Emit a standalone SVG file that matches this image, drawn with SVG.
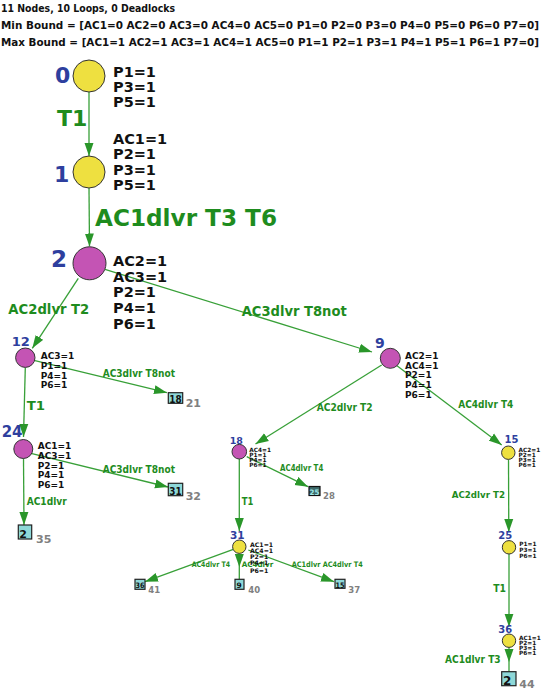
<svg xmlns="http://www.w3.org/2000/svg" width="544" height="691" viewBox="0 0 544 691">
<defs>
<style>
text{font-family:"DejaVu Sans","Liberation Sans",sans-serif;font-weight:bold}
.hd{font-size:10.5px;fill:#111}
.hd2{font-size:10.1px;fill:#111}
.id{fill:#2e3f9e}
.st{fill:#111}
.el{fill:#1e8c1e}
.gr{fill:#808080}
.lf{fill:#111}
.ed{stroke:#38a038;stroke-width:1.3;fill:none}
.y{fill:#eee040;stroke:#333;stroke-width:1}
.m{fill:#c454b4;stroke:#333;stroke-width:1}
.bx{fill:#8ed8d8;stroke:#222;stroke-width:1.2}
.bxd{fill:#3e6a6a;stroke:#111;stroke-width:1.2}
</style>
<marker id="ah" markerUnits="userSpaceOnUse" markerWidth="14" markerHeight="10" refX="13" refY="5" orient="auto"><path d="M0,0.5 L13,5 L0,9.5 z" fill="#2a962a"/></marker>
</defs>
<rect width="544" height="691" fill="#fff"/>
<g id="header">
<text class="hd" x="1" y="12" textLength="174" lengthAdjust="spacingAndGlyphs">11 Nodes, 10 Loops, 0 Deadlocks</text>
<text class="hd2" x="1" y="29" textLength="538" lengthAdjust="spacingAndGlyphs">Min Bound = [AC1=0 AC2=0 AC3=0 AC4=0 AC5=0 P1=0 P2=0 P3=0 P4=0 P5=0 P6=0 P7=0]</text>
<text class="hd2" x="1" y="46" textLength="538" lengthAdjust="spacingAndGlyphs">Max Bound = [AC1=1 AC2=1 AC3=1 AC4=1 AC5=0 P1=1 P2=1 P3=1 P4=1 P5=1 P6=1 P7=0]</text>
</g>
<g id="connectors">
<path class="ed" d="M89,92 L89,156" marker-end="url(#ah)"/>
<path class="ed" d="M89,188 L89.5,246.5" marker-end="url(#ah)"/>
<path class="ed" d="M78.3,278.3 L32.3,348.3" marker-end="url(#ah)"/>
<path class="ed" d="M105,269.3 L372,352" marker-end="url(#ah)"/>
<path class="ed" d="M35,360.7 L167,392.7" marker-end="url(#ah)"/>
<path class="ed" d="M25.3,367.5 L23.5,437" marker-end="url(#ah)"/>
<path class="ed" d="M31,453.3 L168,487" marker-end="url(#ah)"/>
<path class="ed" d="M23.5,458.5 L24,525" marker-end="url(#ah)"/>
<path class="ed" d="M381.7,365 L255.5,444" marker-end="url(#ah)"/>
<path class="ed" d="M396,365 L501.7,445" marker-end="url(#ah)"/>
<path class="ed" d="M246.7,456.7 L308,486.7" marker-end="url(#ah)"/>
<path class="ed" d="M239.3,459 L239.3,531" marker-end="url(#ah)"/>
<path class="ed" d="M233.3,549.3 L145,581.7" marker-end="url(#ah)"/>
<path class="ed" d="M239.3,553.4 L239.3,567 L239.3,579.3" marker-mid="url(#ah)"/>
<path class="ed" d="M248.3,550 L334,581.7" marker-end="url(#ah)"/>
<path class="ed" d="M508.5,459.4 L508.8,532" marker-end="url(#ah)"/>
<path class="ed" d="M509,554 L509,626.7" marker-end="url(#ah)"/>
<path class="ed" d="M509,647.4 L509,662 L509,671.7" marker-mid="url(#ah)"/>
<text class="el" x="57" y="126" font-size="22">T1</text>
<text class="el" x="95" y="226" font-size="22.5" textLength="182" lengthAdjust="spacingAndGlyphs">AC1dlvr T3 T6</text>
<text class="el" x="8.3" y="314" font-size="14" textLength="81" lengthAdjust="spacingAndGlyphs">AC2dlvr T2</text>
<text class="el" x="241.7" y="316" font-size="14" textLength="105" lengthAdjust="spacingAndGlyphs">AC3dlvr T8not</text>
<text class="el" x="102.7" y="376.5" font-size="10" textLength="72.3" lengthAdjust="spacingAndGlyphs">AC3dlvr T8not</text>
<text class="el" x="26.7" y="410" font-size="13" textLength="18.3" lengthAdjust="spacingAndGlyphs">T1</text>
<text class="el" x="102.7" y="472.5" font-size="10" textLength="72.3" lengthAdjust="spacingAndGlyphs">AC3dlvr T8not</text>
<text class="el" x="26.7" y="505" font-size="10.5" textLength="40" lengthAdjust="spacingAndGlyphs">AC1dlvr</text>
<text class="el" x="316.7" y="410.5" font-size="10" textLength="56" lengthAdjust="spacingAndGlyphs">AC2dlvr T2</text>
<text class="el" x="458.3" y="408.3" font-size="10" textLength="55" lengthAdjust="spacingAndGlyphs">AC4dlvr T4</text>
<text class="el" x="280" y="471" font-size="8" textLength="43.3" lengthAdjust="spacingAndGlyphs">AC4dlvr T4</text>
<text class="el" x="241.7" y="505" font-size="10.5" textLength="11.6" lengthAdjust="spacingAndGlyphs">T1</text>
<text class="el" x="191.7" y="566.7" font-size="7.5" textLength="38.3" lengthAdjust="spacingAndGlyphs">AC4dlvr T4</text>
<text class="el" x="241.7" y="566.7" font-size="7.5" textLength="31.6" lengthAdjust="spacingAndGlyphs">AC4dlvr</text>
<text class="el" x="291.7" y="566.7" font-size="7.5" textLength="71" lengthAdjust="spacingAndGlyphs">AC1dlvr AC4dlvr T4</text>
<text class="el" x="451.7" y="498.3" font-size="9.5" textLength="53.3" lengthAdjust="spacingAndGlyphs">AC2dlvr T2</text>
<text class="el" x="493.3" y="591.7" font-size="11" textLength="12.7" lengthAdjust="spacingAndGlyphs">T1</text>
<text class="el" x="445" y="663.3" font-size="10" textLength="55.7" lengthAdjust="spacingAndGlyphs">AC1dlvr T3</text>
</g>
<g id="node0">
<circle class="y" cx="89" cy="76" r="16"/>
<text class="id" x="55" y="83" font-size="22">0</text>
<text class="st" font-size="14.5"><tspan x="113" y="77">P1=1</tspan><tspan x="113" y="92">P3=1</tspan><tspan x="113" y="107">P5=1</tspan></text>
</g>
<g id="node1">
<circle class="y" cx="89" cy="172" r="16"/>
<text class="id" x="54" y="182" font-size="22">1</text>
<text class="st" font-size="14.5"><tspan x="113" y="144">AC1=1</tspan><tspan x="113" y="159.3">P2=1</tspan><tspan x="113" y="174.6">P3=1</tspan><tspan x="113" y="190">P5=1</tspan></text>
</g>
<g id="node2">
<circle class="m" cx="89.5" cy="263.3" r="16.5"/>
<text class="id" x="51" y="267" font-size="23">2</text>
<text class="st" font-size="14.5"><tspan x="113" y="266">AC2=1</tspan><tspan x="113" y="281.5">AC3=1</tspan><tspan x="113" y="297">P2=1</tspan><tspan x="113" y="313">P4=1</tspan><tspan x="113" y="328.5">P6=1</tspan></text>
</g>
<g id="node12">
<circle class="m" cx="25.3" cy="357.7" r="9.7"/>
<text class="id" x="11.7" y="346" font-size="13">12</text>
<text class="st" font-size="9"><tspan x="40.7" y="359">AC3=1</tspan><tspan x="40.7" y="369">P1=1</tspan><tspan x="40.7" y="378.5">P4=1</tspan><tspan x="40.7" y="388">P6=1</tspan></text>
</g>
<g id="node24">
<circle class="m" cx="23.3" cy="449" r="9.5"/>
<text class="id" x="1.7" y="436.7" font-size="15">24</text>
<text class="st" font-size="9"><tspan x="37.7" y="449">AC1=1</tspan><tspan x="37.7" y="459">AC3=1</tspan><tspan x="37.7" y="468.5">P2=1</tspan><tspan x="37.7" y="478.3">P4=1</tspan><tspan x="37.7" y="488">P6=1</tspan></text>
</g>
<g id="node9">
<circle class="m" cx="390.3" cy="358.3" r="10"/>
<text class="id" x="375" y="348.3" font-size="14">9</text>
<text class="st" font-size="9"><tspan x="405" y="359">AC2=1</tspan><tspan x="405" y="368.5">AC4=1</tspan><tspan x="405" y="378">P2=1</tspan><tspan x="405" y="387.7">P4=1</tspan><tspan x="405" y="397.5">P6=1</tspan></text>
</g>
<g id="node15">
<circle class="y" cx="508.3" cy="452.7" r="6.7"/>
<text class="id" x="504.5" y="442.7" font-size="10">15</text>
<text class="st" font-size="5.8"><tspan x="518.5" y="451.5">AC2=1</tspan><tspan x="518.5" y="456.6">P2=1</tspan><tspan x="518.5" y="461.7">P3=1</tspan><tspan x="518.5" y="466.8">P6=1</tspan></text>
</g>
<g id="node18">
<circle class="m" cx="239.3" cy="451.7" r="7.3"/>
<text class="id" x="229.7" y="444.3" font-size="9.5">18</text>
<text class="st" font-size="5.8"><tspan x="249.3" y="451.5">AC4=1</tspan><tspan x="249.3" y="456.6">P1=1</tspan><tspan x="249.3" y="461.7">P4=1</tspan><tspan x="249.3" y="466.8">P6=1</tspan></text>
</g>
<g id="node31">
<circle class="y" cx="239.3" cy="546.7" r="6.7"/>
<text class="id" x="230" y="539.3" font-size="10.5">31</text>
<text class="st" font-size="6.2"><tspan x="250" y="546.5">AC1=1</tspan><tspan x="250" y="552.8">AC4=1</tspan><tspan x="250" y="559.1">P2=1</tspan><tspan x="250" y="565.4">P4=1</tspan><tspan x="250" y="572.5">P6=1</tspan></text>
</g>
<g id="node25">
<circle class="y" cx="509" cy="547.3" r="6.7"/>
<text class="id" x="498.3" y="539.3" font-size="10">25</text>
<text class="st" font-size="5.8"><tspan x="519.3" y="546">P1=1</tspan><tspan x="519.3" y="551.8">P3=1</tspan><tspan x="519.3" y="557.6">P6=1</tspan></text>
</g>
<g id="node36">
<circle class="y" cx="509" cy="640.7" r="6.7"/>
<text class="id" x="498.3" y="633.3" font-size="10">36</text>
<text class="st" font-size="5.8"><tspan x="519" y="640">AC1=1</tspan><tspan x="519" y="645.1">P2=1</tspan><tspan x="519" y="650.2">P3=1</tspan><tspan x="519" y="655.3">P6=1</tspan></text>
</g>
<g id="leaf18">
<rect class="bx" x="168.3" y="392.7" width="14.4" height="10.6"/>
<text class="lf" x="169.3" y="402.5" font-size="10" textLength="12.4" lengthAdjust="spacingAndGlyphs">18</text>
<text class="gr" x="185.7" y="406.5" font-size="11">21</text>
</g>
<g id="leaf31">
<rect class="bx" x="168.3" y="483.3" width="14.4" height="12.4"/>
<text class="lf" x="169.3" y="494.5" font-size="10" textLength="12.4" lengthAdjust="spacingAndGlyphs">31</text>
<text class="gr" x="185.7" y="500" font-size="11">32</text>
</g>
<g id="leaf2a">
<rect class="bx" x="18.3" y="525" width="13.4" height="14"/>
<text class="lf" x="19.3" y="537.5" font-size="11">2</text>
<text class="gr" x="36" y="543.3" font-size="11">35</text>
</g>
<g id="leaf25">
<rect class="bxd" x="309" y="486.5" width="11" height="9"/>
<text x="309.6" y="494.6" font-size="7.5" fill="#a0e8e8" textLength="9.8" lengthAdjust="spacingAndGlyphs">25</text>
<text class="gr" x="323" y="499.3" font-size="8.5">28</text>
</g>
<g id="leaf36">
<rect class="bx" x="135" y="579.3" width="10" height="10"/>
<text class="lf" x="135.5" y="588.3" font-size="7.5" textLength="9" lengthAdjust="spacingAndGlyphs">36</text>
<text class="gr" x="148.3" y="592.7" font-size="8.5">41</text>
</g>
<g id="leaf9">
<rect class="bx" x="235" y="579.3" width="9" height="10"/>
<text class="lf" x="236.5" y="588.3" font-size="7.5">9</text>
<text class="gr" x="248.3" y="592.7" font-size="8.5">40</text>
</g>
<g id="leaf15">
<rect class="bx" x="335" y="579.3" width="10" height="9"/>
<text class="lf" x="335.5" y="587.5" font-size="7.5" textLength="9" lengthAdjust="spacingAndGlyphs">15</text>
<text class="gr" x="348.3" y="592.7" font-size="8.5">37</text>
</g>
<g id="leaf2b">
<rect class="bx" x="501.7" y="671.7" width="14.3" height="14"/>
<text class="lf" x="503" y="684.5" font-size="12">2</text>
<text class="gr" x="519.3" y="688.3" font-size="11">44</text>
</g>
</svg>
